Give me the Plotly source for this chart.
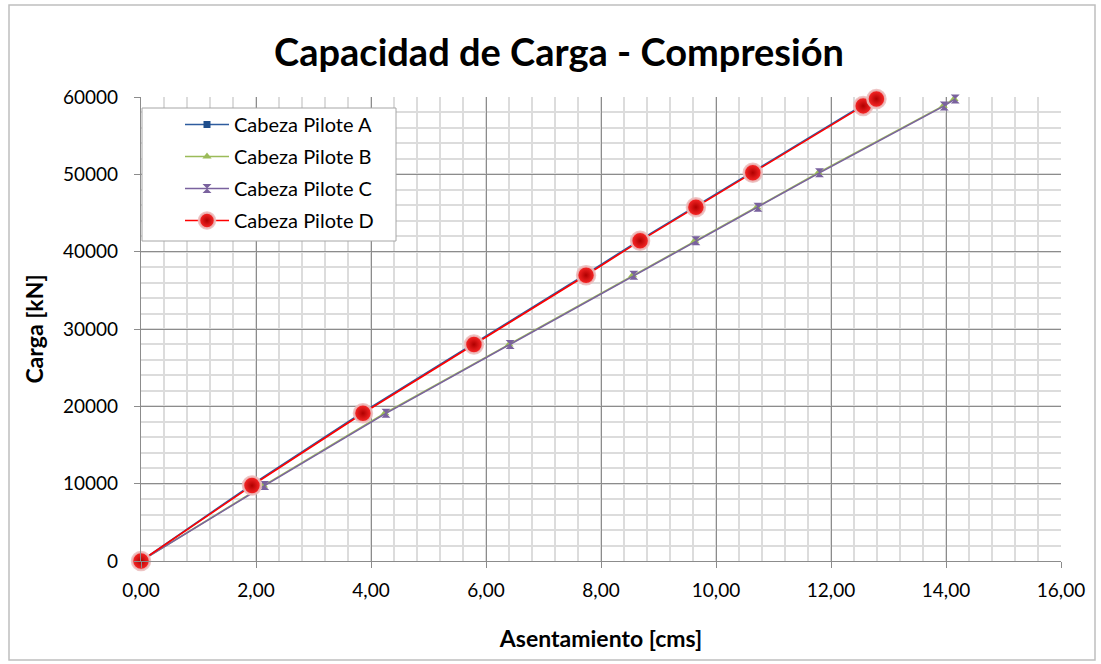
import plotly.graph_objects as go

# Data
carga = [0, 9750, 19100, 28000, 36950, 41400, 45750, 50200, 58850, 59750]
asent_A = [0, 1.90, 3.83, 5.76, 7.71, 8.65, 9.62, 10.61, 12.53, 12.76]
asent_B = [0, 2.13, 4.24, 6.40, 8.55, 9.63, 10.71, 11.78, 13.95, 14.14]
asent_C = [0, 2.15, 4.26, 6.42, 8.57, 9.65, 10.73, 11.80, 13.97, 14.16]
asent_D = [0, 1.93, 3.86, 5.79, 7.74, 8.68, 9.65, 10.64, 12.56, 12.79]
names = ["Cabeza Pilote A", "Cabeza Pilote B", "Cabeza Pilote C", "Cabeza Pilote D"]
x_ticks = [0, 2, 4, 6, 8, 10, 12, 14, 16]
y_ticks = [0, 10000, 20000, 30000, 40000, 50000, 60000]

FONT = "Lato"

fig = go.Figure()
fig.add_trace(go.Scatter(
    x=asent_A, y=carga, name=names[0], mode="lines+markers", legendgroup="a",
    line=dict(color="#2e5c9e", width=1.6),
    marker=dict(symbol="square", size=7, color="#1f4e8c"), cliponaxis=False))
fig.add_trace(go.Scatter(
    x=asent_B, y=carga, name=names[1], mode="lines+markers", legendgroup="b",
    line=dict(color="#9bbb59", width=1.6),
    marker=dict(symbol="triangle-up", size=8, color="#9bbb59"), cliponaxis=False))
fig.add_trace(go.Scatter(
    x=asent_C, y=carga, name=names[2], mode="lines+markers", legendgroup="c",
    line=dict(color="#7a629e", width=1.5),
    marker=dict(symbol="hourglass", size=9, color="#7a629e"), cliponaxis=False))
fig.add_trace(go.Scatter(
    x=asent_D, y=carga, name=names[3], mode="lines+markers", legendgroup="d",
    line=dict(color="#ff0000", width=1.6),
    marker=dict(symbol="circle", size=18, color="#ff2a2a",
                gradient=dict(type="radial", color="#b00000"),
                line=dict(color="rgba(235,190,190,0.9)", width=2.5)),
    cliponaxis=False))

# plot area in pixels: x 141..1061, y 97..561
W, H = 1101, 664
L, R, T, B = 141, 40, 97, 103
pw, ph = W - L - R, H - T - B

def px(x):
    return (x - L) / pw

def py(y):
    return (H - B - y) / ph

shapes = [
    # outer chart border
    dict(type="rect", xref="paper", yref="paper",
         x0=px(9), x1=px(1095), y0=py(660), y1=py(5),
         line=dict(color="#bfbfbf", width=1.5), fillcolor="rgba(0,0,0,0)", layer="below"),
    # legend box
    dict(type="rect", xref="paper", yref="paper",
         x0=px(142), x1=px(396), y0=py(241), y1=py(108),
         line=dict(color="#a6a6a6", width=1), fillcolor="white", layer="above"),
]

fig.update_layout(
    width=W, height=H,
    margin=dict(l=L, r=R, t=T, b=B, autoexpand=False),
    paper_bgcolor="white", plot_bgcolor="white",
    separators=",.",
    font=dict(family=FONT, size=19, color="#000000"),
    title=dict(text="<b>Capacidad de Carga - Compresión</b>",
               font=dict(family=FONT, size=38, color="#000000"),
               x=559 / W, xanchor="center", y=1 - 53 / H, yanchor="middle"),
    showlegend=True,
    legend=dict(x=px(180), xanchor="left", y=py(105), yanchor="top",
                bgcolor="rgba(0,0,0,0)", borderwidth=0,
                font=dict(family=FONT, size=20, color="#000000"),
                tracegroupgap=3, itemwidth=44),
    shapes=shapes,
)

fig.update_xaxes(
    range=[0, 16], tickvals=x_ticks, tickformat=".2f",
    showgrid=True, gridcolor="#8c8c8c", gridwidth=1.3,
    minor=dict(dtick=0.4, tick0=0, showgrid=True, gridcolor="#dcdcdc", gridwidth=2),
    showline=True, linecolor="#8c8c8c", linewidth=1.3,
    ticks="outside", ticklen=6, tickcolor="#8c8c8c",
    ticklabelstandoff=6,
    tickfont=dict(family=FONT, size=19),
    title=dict(text="<b>Asentamiento [cms]</b>", font=dict(family=FONT, size=23), standoff=30),
    zeroline=False,
)
fig.update_yaxes(
    range=[0, 60000], tickvals=y_ticks, tickformat="d",
    showgrid=True, gridcolor="#8c8c8c", gridwidth=1.3,
    minor=dict(dtick=2000, tick0=0, showgrid=True, gridcolor="#dcdcdc", gridwidth=2),
    showline=True, linecolor="#8c8c8c", linewidth=1.3,
    ticks="outside", ticklen=6, tickcolor="#8c8c8c",
    ticklabelstandoff=12,
    tickfont=dict(family=FONT, size=19),
    title=dict(text="<b>Carga [kN]</b>", font=dict(family=FONT, size=23), standoff=12),
    zeroline=False,
)

fig.write_html("out.html", config={"displayModeBar": False},
               post_script="document.body.style.margin='0';")
